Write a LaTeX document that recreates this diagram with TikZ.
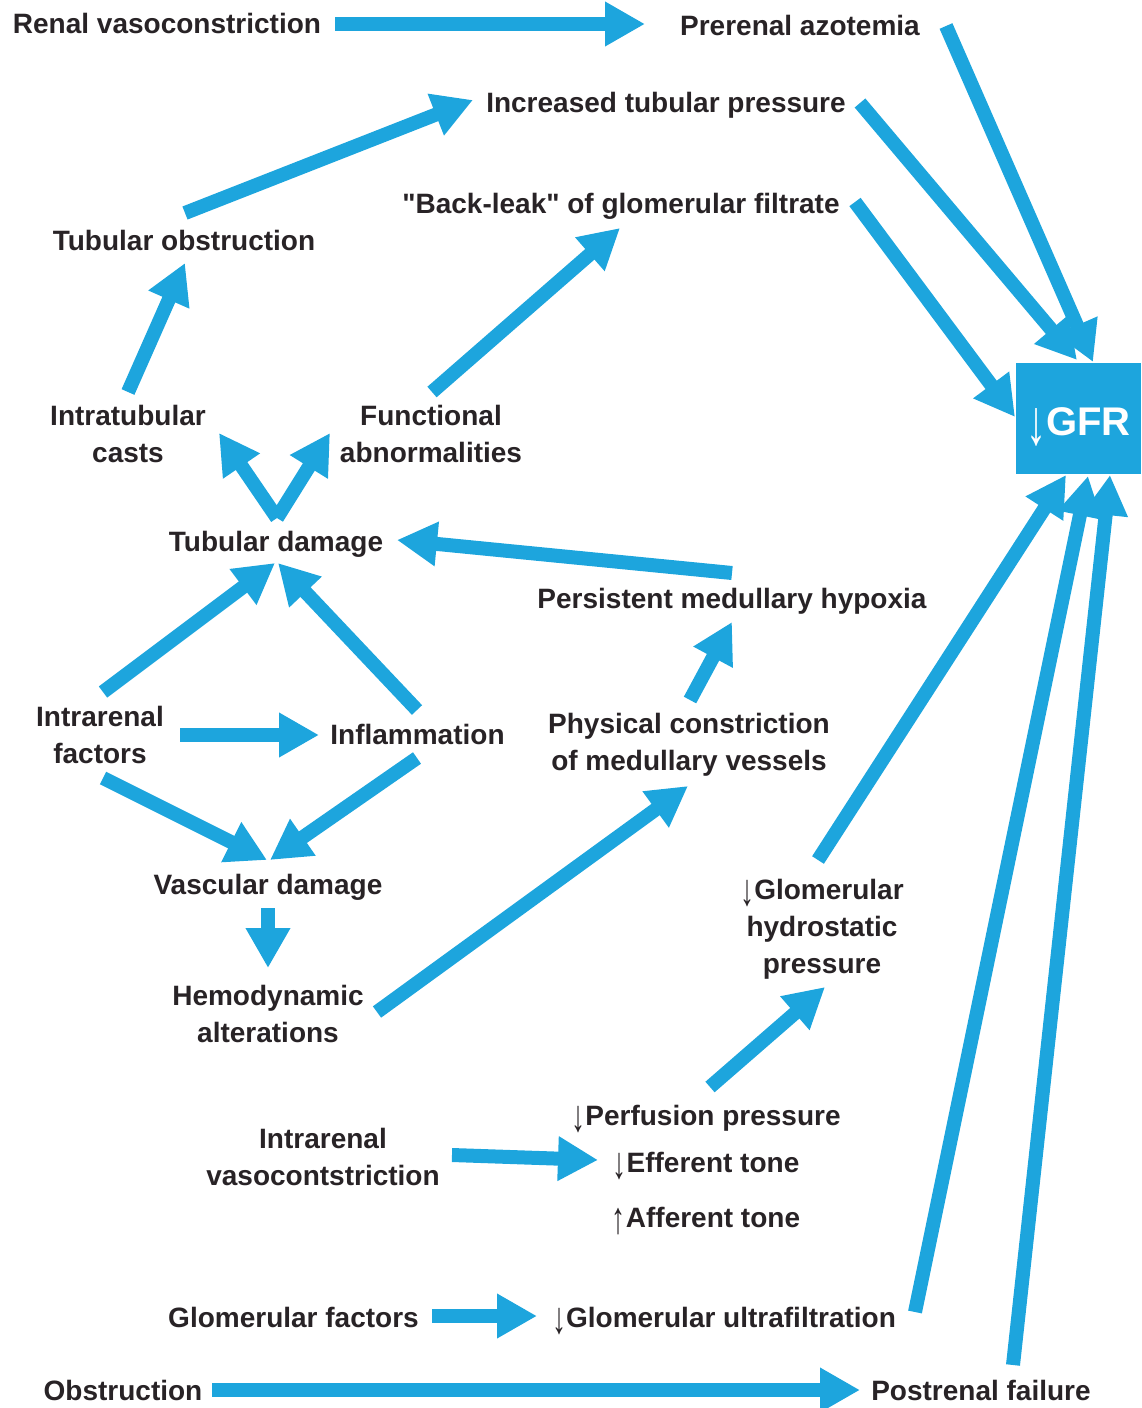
\documentclass[tikz,border=0pt]{standalone}
\usepackage{graphicx}
\usepackage{fontspec}
\setmainfont{Liberation Sans}[Ligatures=TeXOff]
\usetikzlibrary{arrows.meta}
\definecolor{arrblue}{RGB}{29,165,221}
\definecolor{txt}{RGB}{40,35,38}
\newcommand{\mydown}{{\mdseries\raisebox{-0.22em}{\scalebox{1}[1.6]{↓}}}}
\newcommand{\myup}{{\mdseries\raisebox{-0.22em}{\scalebox{1}[1.6]{↑}}}}
\begin{document}
\begin{tikzpicture}[x=0.5pt,y=-0.5pt,
  lbl/.style={font=\fontsize{14}{18.5}\selectfont\bfseries, text=txt, inner sep=0pt, align=center},
  arr/.style={draw=arrblue, line width=7pt, -{Triangle[length=20pt,width=21pt]}}]
\useasboundingbox (0,0) rectangle (1141,1408);
% single-line nodes (anchor base)
\node[lbl, anchor=base] (renal) at (167,33) {Renal vasoconstriction};
\node[lbl, anchor=base] (prerenal) at (800,35) {Prerenal azotemia};
\node[lbl, anchor=base] (incr) at (666,112) {Increased tubular pressure};
\node[lbl, anchor=base] (backleak) at (621,213) {"Back-leak" of glomerular filtrate};
\node[lbl, anchor=base] (tobs) at (184,250) {Tubular obstruction};
\node[lbl, anchor=base] (tdam) at (276,551) {Tubular damage};
\node[lbl, anchor=base] (hypox) at (732,608) {Persistent medullary hypoxia};
\node[lbl, anchor=base] (infl) at (417.5,744) {Inflammation};
\node[lbl, anchor=base] (vasc) at (268,894) {Vascular damage};
\node[lbl, anchor=base] (perf) at (706,1125) {\mydown Perfusion pressure};
\node[lbl, anchor=base] (eff) at (706,1172) {\mydown Efferent tone};
\node[lbl, anchor=base] (aff) at (706,1227) {\myup Afferent tone};
\node[lbl, anchor=base] (gfac) at (293.5,1327) {Glomerular factors};
\node[lbl, anchor=base] (gultra) at (724,1327) {\mydown Glomerular ultrafiltration};
\node[lbl, anchor=base] (obst) at (123,1400) {Obstruction};
\node[lbl, anchor=base] (postr) at (981,1400) {Postrenal failure};
% multi-line nodes (anchor center)
\node[lbl] (itc) at (128,433.5) {Intratubular\\casts};
\node[lbl] (func) at (431,434) {Functional\\abnormalities};
\node[lbl] (ifac) at (100,734.5) {Intrarenal\\factors};
\node[lbl] (phys) at (689,744.5) {Physical constriction\\of medullary vessels};
\node[lbl] (hemo) at (268,1014) {Hemodynamic\\alterations};
\node[lbl] (ghyd) at (822,929.5) {\mydown Glomerular\\hydrostatic\\pressure};
\node[lbl] (ivc) at (323,1157) {Intrarenal\\vasocontstriction};
% GFR box
\node[fill=arrblue, minimum width=62.5pt, minimum height=55.5pt, inner sep=0pt, text=white,
  text height=17pt, text depth=0pt,
  font=\fontsize{20}{24}\selectfont\bfseries] (gfr) at (1078.5,418.5) {\mydown GFR};
% connectors
\draw[arr] ([shift={(168,-9)}]renal.base) -- ([shift={(-155,-11)}]prerenal.base);
\draw[arr] ([shift={(146,-9)}]prerenal.base) -- ([shift={(14.5,-56.5)}]gfr.center);
\draw[arr] ([shift={(194,-9)}]incr.base) -- ([shift={(-1.5,-58.5)}]gfr.center);
\draw[arr] ([shift={(234,-11)}]backleak.base) -- ([shift={(-63.5,-1.5)}]gfr.center);
\draw[arr] ([shift={(1,-37)}]tobs.base) -- ([shift={(-193,-12)}]incr.base);
\draw[arr] ([shift={(0,-41.5)}]itc.center) -- ([shift={(1,13)}]tobs.base);
\draw[arr] ([shift={(1,-42)}]func.center) -- ([shift={(-1,15)}]backleak.base);
\draw[arr] ([shift={(1,-33)}]tdam.base) -- ([shift={(91,-0.5)}]itc.center);
\draw[arr] ([shift={(1,-33)}]tdam.base) -- ([shift={(-101,-1)}]func.center);
\draw[arr] ([shift={(0,-35)}]hypox.base) -- ([shift={(121,-11)}]tdam.base);
\draw[arr] ([shift={(3,-42.5)}]ifac.center) -- ([shift={(-1,12)}]tdam.base);
\draw[arr] ([shift={(-0.5,-34)}]infl.base) -- ([shift={(2,12)}]tdam.base);
\draw[arr] ([shift={(80,0.5)}]ifac.center) -- ([shift={(-98.5,-9)}]infl.base);
\draw[arr] ([shift={(3,43.5)}]ifac.center) -- ([shift={(-1,-34)}]vasc.base);
\draw[arr] ([shift={(-0.5,14)}]infl.base) -- ([shift={(2,-34)}]vasc.base);
\draw[arr] ([shift={(0,14)}]vasc.base) -- ([shift={(0,-46)}]hemo.center);
\draw[arr] ([shift={(109,-2)}]hemo.center) -- ([shift={(-1,41.5)}]phys.center);
\draw[arr] ([shift={(1,-44.5)}]phys.center) -- ([shift={(0,14)}]hypox.base);
\draw[arr] ([shift={(-4,-69.5)}]ghyd.center) -- ([shift={(-12.5,56.5)}]gfr.center);
\draw[arr] ([shift={(4,-38)}]perf.base) -- ([shift={(3,57.5)}]ghyd.center);
\draw[arr] ([shift={(129,-2)}]ivc.center) -- ([shift={(-108,-12)}]eff.base);
\draw[arr] ([shift={(138.5,-11)}]gfac.base) -- ([shift={(-187,-11)}]gultra.base);
\draw[arr] ([shift={(191,-15)}]gultra.base) -- ([shift={(9.5,57.5)}]gfr.center);
\draw[arr] ([shift={(89,-10)}]obst.base) -- ([shift={(-121,-10)}]postr.base);
\draw[arr] ([shift={(32,-35)}]postr.base) -- ([shift={(31.5,56.5)}]gfr.center);
\end{tikzpicture}
\end{document}
